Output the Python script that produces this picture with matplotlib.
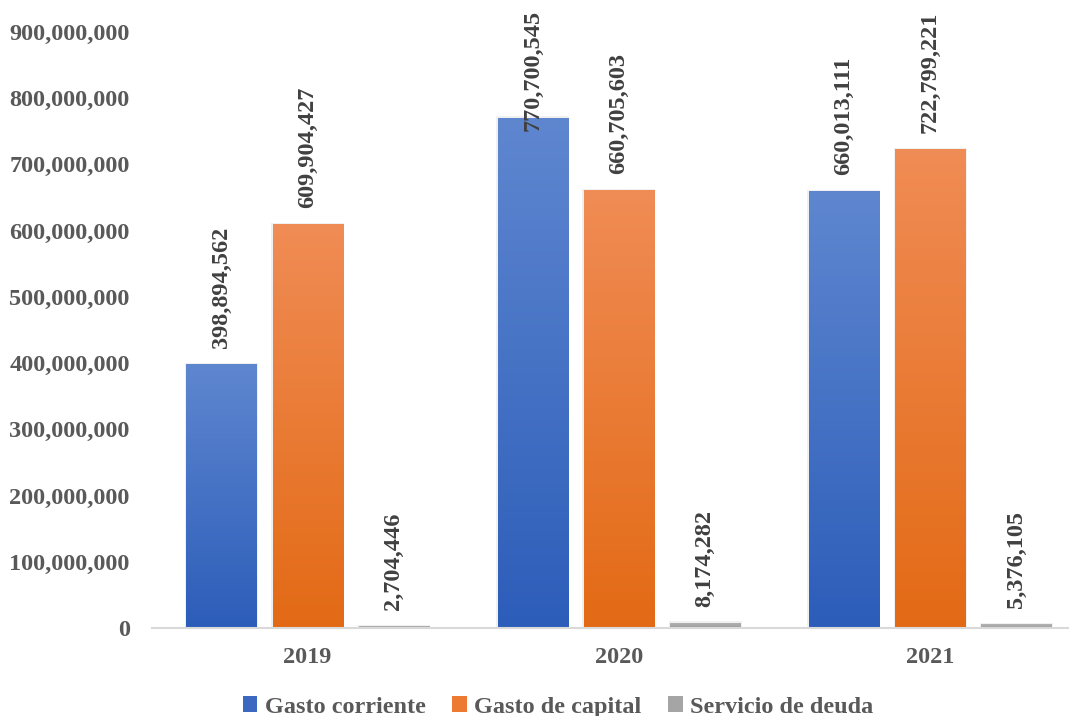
import numpy as np
import matplotlib.pyplot as plt
import matplotlib.transforms as mtransforms
from matplotlib.colors import LinearSegmentedColormap
from matplotlib.patches import Patch
from matplotlib.ticker import FuncFormatter

# data
years = ['2019', '2020', '2021']
series = ['Gasto corriente', 'Gasto de capital', 'Servicio de deuda']
gasto_corriente = [398894562, 770700545, 660013111]
gasto_capital = [609904427, 660705603, 722799221]
servicio_deuda = [2704446, 8174282, 5376105]

values = [gasto_corriente, gasto_capital, servicio_deuda]
# (top, bottom) gradient colours
grad_colors = [('#5F87D0', '#2C5DB9'), ('#F08C55', '#E36A15'), ('#B4B4B4', '#9C9C9C')]
legend_colors = ['#3C68C2', '#EC7A30', '#A5A5A5']

plt.rcParams['font.family'] = ['Liberation Serif', 'DejaVu Serif']
plt.rcParams['font.weight'] = 'bold'

FS = 17.5

fig = plt.figure(figsize=(10.73, 7.16), dpi=100)
ax = fig.add_axes([152/1073, 88/716, (1068-152)/1073, (684-88)/716])

x = np.arange(len(years))
width = 0.225
offsets = [-0.277, 0.0, 0.277]

grad = np.linspace(0, 1, 256).reshape(-1, 1)
for i, vals in enumerate(values):
    bars = ax.bar(x + offsets[i], vals, width, color='none', edgecolor='none', zorder=2)
    cmap = LinearSegmentedColormap.from_list('g%d' % i, [grad_colors[i][1], grad_colors[i][0]])
    for b in bars:
        bx, by, bw, bh = b.get_x(), b.get_y(), b.get_width(), b.get_height()
        # soft shadow
        ax.add_patch(plt.Rectangle((bx - 0.005, 0), bw + 0.01, bh + 2e6,
                                   facecolor='#000000', alpha=0.06, edgecolor='none', zorder=1))
        im = ax.imshow(grad, extent=[bx, bx + bw, by, by + bh], origin='lower',
                       cmap=cmap, aspect='auto', zorder=2, interpolation='bilinear')
        im.set_clip_path(b)

ax.set_xlim(-0.5, 2.443)
ax.set_ylim(0, 900000000)
ax.set_xticks(x)
ax.set_xticklabels(years, fontweight='bold')
ax.set_yticks(np.arange(0, 900000001, 100000000))
ax.yaxis.set_major_formatter(FuncFormatter(lambda v, p: f'{int(v):,}'))
ax.tick_params(axis='both', length=0, labelsize=FS, labelcolor='#595959')
ax.tick_params(axis='x', pad=14)
ax.tick_params(axis='y', pad=16)
for lab in ax.get_yticklabels():
    lab.set_fontweight('bold')
for s in ['top', 'right', 'left']:
    ax.spines[s].set_visible(False)
ax.spines['bottom'].set_color('#D9D9D9')
ax.spines['bottom'].set_linewidth(1.5)
ax.spines['bottom'].set_zorder(3)

# value labels
texts = []
for i, vals in enumerate(values):
    for j, v in enumerate(vals):
        tr = mtransforms.offset_copy(ax.transData, fig=fig, x=0, y=16, units='dots')
        t = ax.text(x[j] + offsets[i], v, f'{v:,}', rotation=90, ha='center', va='bottom',
                    fontsize=FS, fontweight='bold', color='#404040', transform=tr,
                    zorder=4, clip_on=False)
        texts.append(t)

fig.canvas.draw()
H = fig.bbox.height
for t in texts:
    bb = t.get_window_extent()
    if bb.y1 > H - 10:
        shift = bb.y1 - (H - 10)
        tr = mtransforms.offset_copy(ax.transData, fig=fig, x=0, y=16 - shift, units='dots')
        t.set_transform(tr)

handles = [Patch(facecolor=c, edgecolor='none', label=s) for c, s in zip(legend_colors, series)]
fig.legend(handles=handles, loc='center', bbox_to_anchor=(558/1073, 1 - 707/716), ncol=3,
           frameon=False, handlelength=0.6, handleheight=0.6, handletextpad=0.3,
           columnspacing=1.1, labelcolor='#595959', prop={'weight': 'bold', 'size': FS})

fig.savefig('out.png', dpi=100)
